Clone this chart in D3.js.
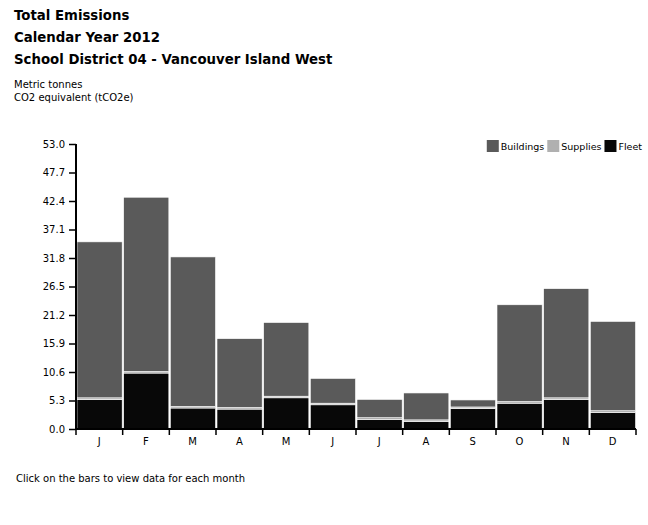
<!doctype html>
<html>
<head>
<meta charset="utf-8">
<title>Total Emissions 2012</title>
<script src="https://d3js.org/d3.v7.min.js"></script>
<style>
  body { margin: 0; background: #fff; }
  text { font-family: "DejaVu Sans", Verdana, sans-serif; fill: #000; }
</style>
</head>
<body>
<div id="chart"></div>
<script>
// months and stacked series (tCO2e)
var months = ["J", "F", "M", "A", "M", "J", "J", "A", "S", "O", "N", "D"];
var fleet     = [5.5, 10.4, 3.9, 3.7, 5.8, 4.5, 1.8, 1.4, 3.8, 4.8, 5.5, 3.1];
var supplies  = [0.3, 0.3, 0.3, 0.3, 0.3, 0.3, 0.3, 0.3, 0.3, 0.3, 0.3, 0.3];
var buildings = [29.0, 32.4, 27.8, 12.8, 13.7, 4.6, 3.4, 5.0, 1.3, 18.0, 20.3, 16.6];
var yTicks = [0.0, 5.3, 10.6, 15.9, 21.2, 26.5, 31.8, 37.1, 42.4, 47.7, 53.0];
var seriesNames = ["Buildings", "Supplies", "Fleet"];
var seriesColors = ["#5a5a5a", "#b0b0b0", "#080808"];

var W = 648, H = 525;
var margin = {top: 144, right: 12, bottom: 96, left: 76};
var width = W - margin.left - margin.right,
    height = H - margin.top - margin.bottom;

var svg = d3.select("#chart").append("svg")
    .attr("width", W)
    .attr("height", H);

// titles
var titles = ["Total Emissions", "Calendar Year 2012", "School District 04 - Vancouver Island West"];
svg.selectAll(".title").data(titles).enter().append("text")
    .attr("class", "title")
    .attr("x", 14)
    .attr("y", function(d, i) { return 20 + i * 22; })
    .style("font-size", "13.3px")
    .style("font-weight", "bold")
    .text(function(d) { return d; });

svg.append("text").attr("x", 14).attr("y", 88).style("font-size", "10px").text("Metric tonnes");
svg.append("text").attr("x", 14).attr("y", 101).style("font-size", "10px").text("CO2 equivalent (tCO2e)");

var g = svg.append("g")
    .attr("transform", "translate(" + margin.left + "," + margin.top + ")");

var data = months.map(function(m, i) {
    return {i: i, month: m, Fleet: fleet[i], Supplies: supplies[i], Buildings: buildings[i]};
});

var x = d3.scaleBand()
    .domain(d3.range(months.length))
    .range([0, width])
    .padding(0);

var y = d3.scaleLinear()
    .domain([0, 53.0])
    .range([height, 0]);

var stack = d3.stack().keys(["Fleet", "Supplies", "Buildings"]);
var layers = stack(data);
var color = d3.scaleOrdinal().domain(seriesNames).range(seriesColors);

g.selectAll(".layer")
    .data(layers)
    .enter().append("g")
    .attr("class", "layer")
    .attr("fill", function(d) { return color(d.key); })
    .selectAll("rect")
    .data(function(d) { return d; })
    .enter().append("rect")
    .attr("x", function(d) { return x(d.data.i) + 1; })
    .attr("width", x.bandwidth() - 1.5)
    .attr("y", function(d) { return y(d[1]); })
    .attr("height", function(d) { return y(d[0]) - y(d[1]); })
    .attr("stroke", "#fff")
    .attr("stroke-width", 0.6);

// y axis
var yAxis = g.append("g")
    .call(d3.axisLeft(y).tickValues(yTicks).tickFormat(d3.format(".1f")).tickSize(7).tickPadding(4));
yAxis.select(".domain").attr("stroke-width", 2).attr("d", "M0," + height + "V0");
yAxis.selectAll(".tick line").attr("stroke-width", 1.5);
yAxis.selectAll("text").style("font-size", "10px").style("font-family", "DejaVu Sans, Verdana, sans-serif");

// x axis: ticks at band boundaries, labels centred
var xAxisG = g.append("g").attr("transform", "translate(0," + height + ")");
xAxisG.append("line").attr("x1", 0).attr("x2", width).attr("stroke", "#000").attr("stroke-width", 2);
xAxisG.selectAll(".bt").data(d3.range(months.length + 1)).enter().append("line")
    .attr("class", "bt")
    .attr("x1", function(d) { return d < months.length ? x(d) : width; })
    .attr("x2", function(d) { return d < months.length ? x(d) : width; })
    .attr("y1", 0).attr("y2", 6)
    .attr("stroke", "#000").attr("stroke-width", 1.5);
xAxisG.selectAll(".ml").data(months).enter().append("text")
    .attr("class", "ml")
    .attr("x", function(d, i) { return x(i) + x.bandwidth() / 2; })
    .attr("y", 16)
    .attr("text-anchor", "middle")
    .style("font-size", "10px")
    .text(function(d) { return d; });

// legend, laid out right to left so it ends near the right edge
var legend = svg.append("g").attr("transform", "translate(0,140)");
var cursor = 642;
seriesNames.slice().reverse().forEach(function(name) {
    var t = legend.append("text").attr("y", 10).style("font-size", "9.5px").text(name);
    var tw = t.node().getComputedTextLength();
    t.attr("x", cursor - tw);
    legend.append("rect").attr("x", cursor - tw - 14).attr("y", 0)
        .attr("width", 12).attr("height", 12)
        .attr("fill", color(name));
    cursor = cursor - tw - 17;
});

svg.append("text").attr("x", 16).attr("y", 482).style("font-size", "10px")
    .text("Click on the bars to view data for each month");
</script>
</body>
</html>
